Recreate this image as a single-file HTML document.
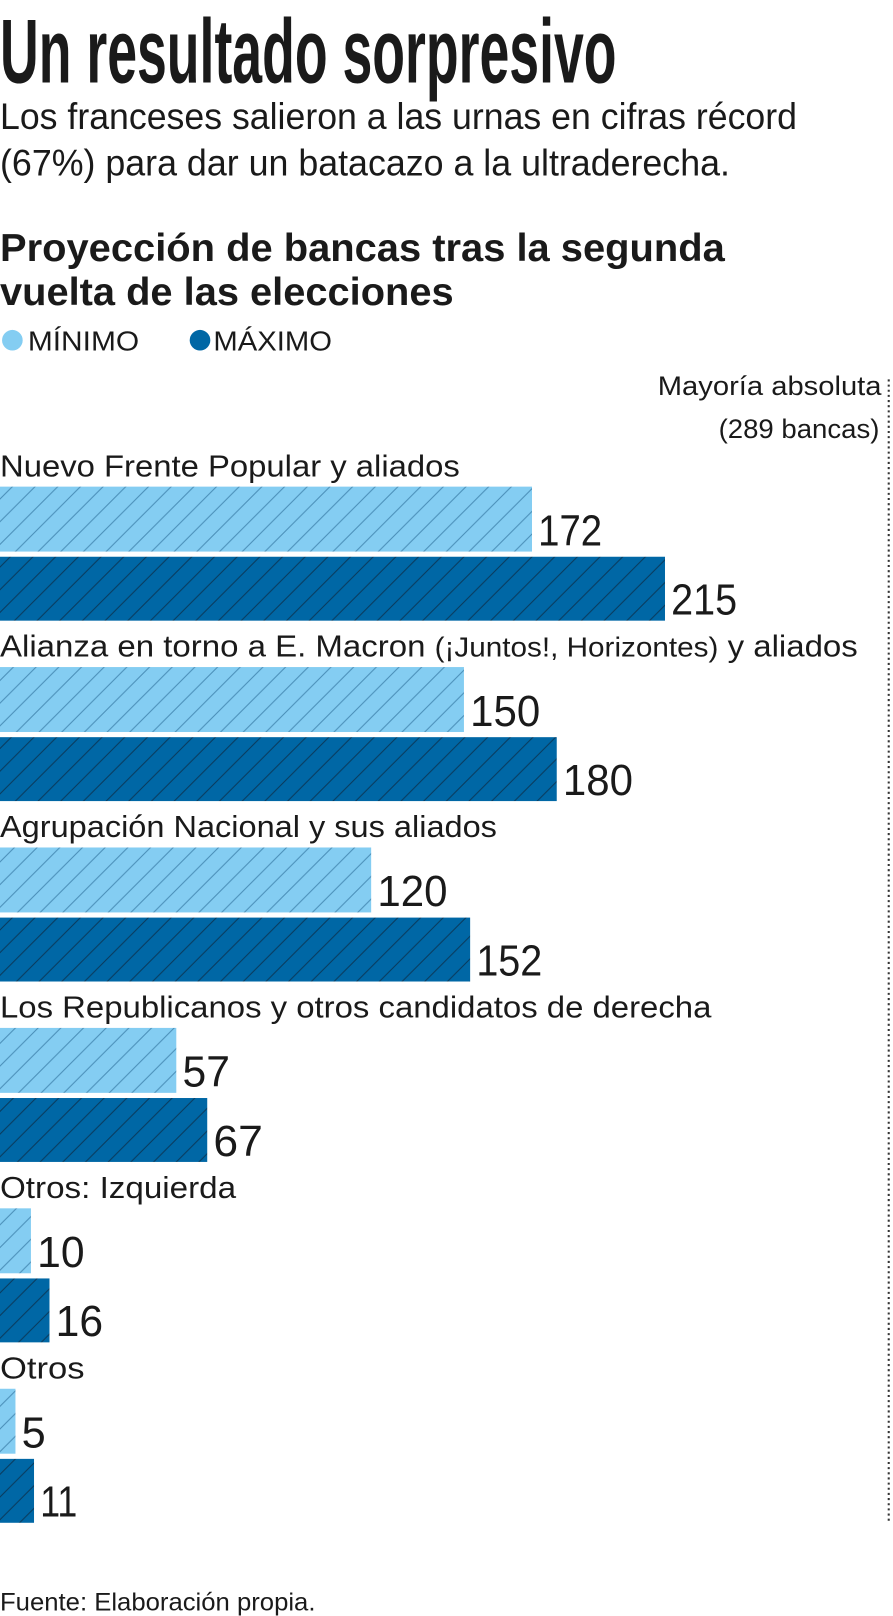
<!DOCTYPE html>
<html><head><meta charset="utf-8"><style>
html,body{margin:0;padding:0;background:#fff;}
svg{display:block;}
text{font-family:"Liberation Sans Narrow","Liberation Sans",sans-serif;fill:#1a1a1a;}
</style></head><body>
<svg width="893" height="1616" viewBox="0 0 893 1616" xmlns="http://www.w3.org/2000/svg">
<defs>
<pattern id="hl" width="22" height="22" patternUnits="userSpaceOnUse">
<rect width="22" height="22" fill="#84cdf2"/>
<path d="M-2,24 L24,-2 M-24,24 L2,-2 M20,24 L46,-2" stroke="#4a8fb8" stroke-width="1"/>
</pattern>
<pattern id="hd" width="22" height="22" patternUnits="userSpaceOnUse">
<rect width="22" height="22" fill="#0067a5"/>
<path d="M-2,24 L24,-2 M-24,24 L2,-2 M20,24 L46,-2" stroke="#0a3a5c" stroke-width="1"/>
</pattern>
</defs>
<g transform="scale(1.031)">
<text x="0" y="80" font-size="88" font-weight="bold" textLength="598" lengthAdjust="spacingAndGlyphs">Un resultado sorpresivo</text>
<text x="0" y="125" font-size="36" textLength="773" lengthAdjust="spacingAndGlyphs">Los franceses salieron a las urnas en cifras récord</text>
<text x="0" y="170" font-size="36" textLength="708" lengthAdjust="spacingAndGlyphs">(67%) para dar un batacazo a la ultraderecha.</text>
<text x="0" y="253" font-size="38" font-weight="bold" textLength="703" lengthAdjust="spacingAndGlyphs">Proyección de bancas tras la segunda</text>
<text x="0" y="296" font-size="38" font-weight="bold" textLength="440" lengthAdjust="spacingAndGlyphs">vuelta de las elecciones</text>
<circle cx="12" cy="330" r="10" fill="#84cdf2"/>
<text x="27" y="340" font-size="27" textLength="108" lengthAdjust="spacingAndGlyphs">MÍNIMO</text>
<circle cx="194" cy="330" r="10" fill="#0067a5"/>
<text x="207" y="340" font-size="27" textLength="115" lengthAdjust="spacingAndGlyphs">MÁXIMO</text>
<text x="638" y="383" font-size="26" textLength="217" lengthAdjust="spacingAndGlyphs">Mayoría absoluta</text>
<text x="697" y="425" font-size="26" textLength="156" lengthAdjust="spacingAndGlyphs">(289 bancas)</text>
<line x1="862" y1="368" x2="862" y2="1478" stroke="#333" stroke-width="2" stroke-dasharray="2,3"/>

<g font-size="30">
<text x="0" y="462" textLength="446" lengthAdjust="spacingAndGlyphs">Nuevo Frente Popular y aliados</text>
<text x="0" y="637" textLength="832" lengthAdjust="spacingAndGlyphs">Alianza en torno a E. Macron <tspan font-size="27">(¡Juntos!, Horizontes)</tspan> y aliados</text>
<text x="0" y="812" textLength="482" lengthAdjust="spacingAndGlyphs">Agrupación Nacional y sus aliados</text>
<text x="0" y="987" textLength="690" lengthAdjust="spacingAndGlyphs">Los Republicanos y otros candidatos de derecha</text>
<text x="0" y="1162" textLength="229" lengthAdjust="spacingAndGlyphs">Otros: Izquierda</text>
<text x="0" y="1337" textLength="82" lengthAdjust="spacingAndGlyphs">Otros</text>
</g>

<g>
<rect x="0" y="472" width="516" height="63" fill="url(#hl)"/>
<rect x="0" y="540" width="645" height="62" fill="url(#hd)"/>
<rect x="0" y="647" width="450" height="63" fill="url(#hl)"/>
<rect x="0" y="715" width="540" height="62" fill="url(#hd)"/>
<rect x="0" y="822" width="360" height="63" fill="url(#hl)"/>
<rect x="0" y="890" width="456" height="62" fill="url(#hd)"/>
<rect x="0" y="997" width="171" height="63" fill="url(#hl)"/>
<rect x="0" y="1065" width="201" height="62" fill="url(#hd)"/>
<rect x="0" y="1172" width="30" height="63" fill="url(#hl)"/>
<rect x="0" y="1240" width="48" height="62" fill="url(#hd)"/>
<rect x="0" y="1347" width="15" height="63" fill="url(#hl)"/>
<rect x="0" y="1415" width="33" height="62" fill="url(#hd)"/>
</g>

<g font-size="42">
<text x="522" y="529" textLength="62" lengthAdjust="spacingAndGlyphs">172</text>
<text x="651" y="596" textLength="64" lengthAdjust="spacingAndGlyphs">215</text>
<text x="456" y="704" textLength="68" lengthAdjust="spacingAndGlyphs">150</text>
<text x="546" y="771" textLength="68" lengthAdjust="spacingAndGlyphs">180</text>
<text x="366" y="879" textLength="68" lengthAdjust="spacingAndGlyphs">120</text>
<text x="462" y="946" textLength="64" lengthAdjust="spacingAndGlyphs">152</text>
<text x="177" y="1054" textLength="46" lengthAdjust="spacingAndGlyphs">57</text>
<text x="207" y="1121" textLength="48" lengthAdjust="spacingAndGlyphs">67</text>
<text x="36" y="1229" textLength="46" lengthAdjust="spacingAndGlyphs">10</text>
<text x="54" y="1296" textLength="46" lengthAdjust="spacingAndGlyphs">16</text>
<text x="21" y="1404">5</text>
<text x="39" y="1471" textLength="36" lengthAdjust="spacingAndGlyphs">11</text>
</g>

<text x="0" y="1562" font-size="24" textLength="306" lengthAdjust="spacingAndGlyphs">Fuente: Elaboración propia.</text>
</g>
</svg>
</body></html>
